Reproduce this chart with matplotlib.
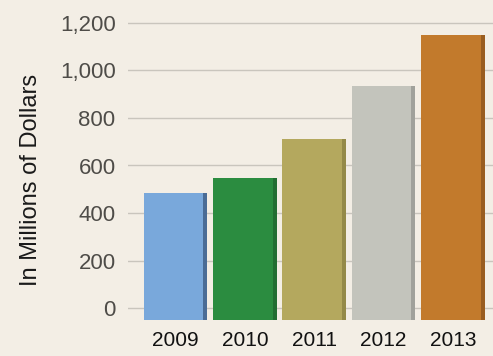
import matplotlib
matplotlib.use("Agg")
import matplotlib.pyplot as plt

years = ["2009", "2010", "2011", "2012", "2013"]
values = [484, 547, 712, 935, 1149]
colors = ["#79a8db", "#2b8c40", "#b4a85e", "#c3c4bc", "#c27a2c"]
edge_colors = ["#2c4468", "#1d5a2a", "#80763a", "#8a8a86", "#7e4a18"]
yticks = [0, 200, 400, 600, 800, 1000, 1200]
ytick_labels = ["0", "200", "400", "600", "800", "1,000", "1,200"]

plt.rcParams['font.family'] = ['Liberation Sans', 'DejaVu Sans']

bg = "#f3eee5"
fig = plt.figure(figsize=(4.93, 3.56), dpi=100, facecolor=bg)
ax = fig.add_axes([128/493, 1 - 320/356, 1 - 128/493, (320 - 11)/356])
ax.set_facecolor(bg)

floor = -52
x = list(range(len(years)))
heights = [v - floor for v in values]
ax.bar(x, heights, bottom=floor, width=0.92, color=colors, zorder=3)
# darker right edge strip for a slight 3D look
ax.bar([i + 0.46 - 0.03 for i in x], heights, bottom=floor, width=0.06,
       color=edge_colors, alpha=0.6, zorder=4)

ax.set_ylim(-50, 1250)
ax.set_xlim(-0.685, 4.58)
ax.set_yticks(yticks)
ax.set_yticklabels(ytick_labels)
ax.set_xticks(x)
ax.set_xticklabels(years)
ax.grid(axis='y', color="#c9c5bd", linewidth=1.0, zorder=0)
for s in ax.spines.values():
    s.set_visible(False)
ax.tick_params(axis='y', length=0, pad=9, labelsize=16, labelcolor="#4e4c48")
ax.tick_params(axis='x', length=0, pad=8, labelsize=15, labelcolor="#111111")
fig.text(31/493, 1 - 180/356, "In Millions of Dollars", rotation=90,
         ha='center', va='center', fontsize=17, color="#1a1a1a")

fig.savefig("out.png", dpi=100, facecolor=bg)
